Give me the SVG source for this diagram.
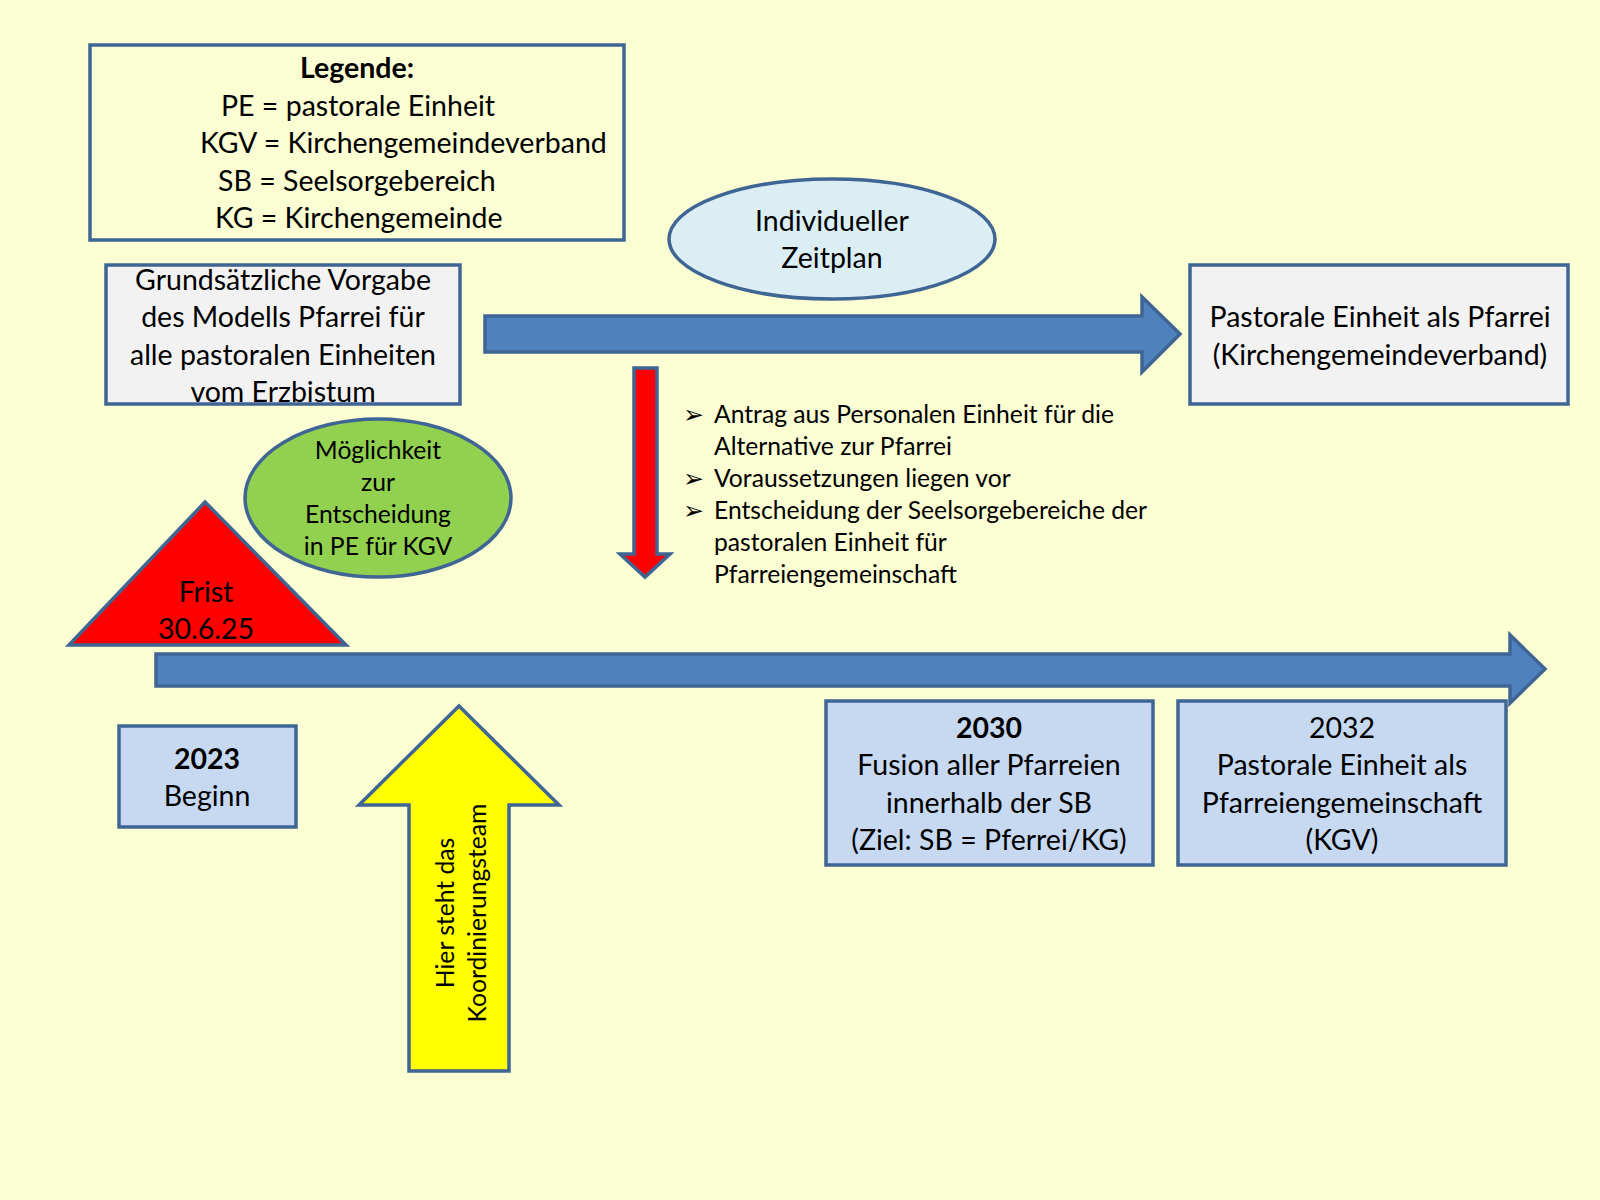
<svg xmlns="http://www.w3.org/2000/svg" width="1600" height="1200" viewBox="0 0 1600 1200">
<style>
text { font-family: Lato, "Liberation Sans", sans-serif; fill: #000; }
.l { font-size: 28.5px; }
.s { font-size: 24.7px; }
.c { text-anchor: middle; }
.b { font-weight: bold; }
.shape { stroke: #3F6594; stroke-width: 3.5; stroke-linejoin: miter; }
.blue { fill: #4F81BD; }
.grey { fill: #F2F2F2; }
.lb { fill: #C6D9F1; }
.bul { font-family: "DejaVu Sans", sans-serif; font-size: 25px; }
</style>
<rect width="1600" height="1200" fill="#FBFDD2"/>

<g id="legend">
  <rect class="shape" x="90" y="45" width="534" height="195" fill="#FBFDD2"/>
  <text class="l c b" x="357" y="78">Legende:</text>
  <text class="l" x="221" y="116">PE = pastorale Einheit</text>
  <text class="l" x="200" y="153">KGV = Kirchengemeindeverband</text>
  <text class="l" x="218" y="191">SB = Seelsorgebereich</text>
  <text class="l" x="215" y="228">KG = Kirchengemeinde</text>
</g>

<g id="vorgabe">
  <rect class="shape grey" x="106" y="265" width="354" height="139"/>
  <text class="l c" x="283" y="290">Grundsätzliche Vorgabe</text>
  <text class="l c" x="283" y="327">des Modells Pfarrei für</text>
  <text class="l c" x="283" y="365">alle pastoralen Einheiten</text>
  <text class="l c" x="283" y="402">vom Erzbistum</text>
</g>

<g id="zeitplan">
  <ellipse class="shape" cx="832" cy="239" rx="163" ry="60" fill="#DBEEF4"/>
  <text class="l c" x="832" y="231">Individueller</text>
  <text class="l c" x="832" y="268">Zeitplan</text>
</g>

<g id="pfarrei">
  <rect class="shape grey" x="1190" y="265" width="378" height="139"/>
  <text class="l c" x="1380" y="327">Pastorale Einheit als Pfarrei</text>
  <text class="l c" x="1380" y="365">(Kirchengemeindeverband)</text>
</g>

<g id="moeglichkeit">
  <ellipse class="shape" cx="378" cy="498" rx="133" ry="79" fill="#92D050"/>
  <text class="s c" x="378" y="459">Möglichkeit</text>
  <text class="s c" x="378" y="491">zur</text>
  <text class="s c" x="378" y="523">Entscheidung</text>
  <text class="s c" x="378" y="555">in PE für KGV</text>
</g>

<g id="frist">
  <polygon class="shape" points="205,502 346,645 69,645" fill="#FF0000"/>
  <text class="l c" x="206" y="602">Frist</text>
  <text class="l c" x="206" y="639">30.6.25</text>
</g>

<g id="liste">
  <text class="bul" x="683" y="423">➢</text>
  <text class="s" x="714" y="423">Antrag aus Personalen Einheit für die</text>
  <text class="s" x="714" y="455">Alternative zur Pfarrei</text>
  <text class="bul" x="683" y="487">➢</text>
  <text class="s" x="714" y="487">Voraussetzungen liegen vor</text>
  <text class="bul" x="683" y="519">➢</text>
  <text class="s" x="714" y="519">Entscheidung der Seelsorgebereiche der</text>
  <text class="s" x="714" y="551">pastoralen Einheit für</text>
  <text class="s" x="714" y="583">Pfarreiengemeinschaft</text>
</g>

<g id="beginn">
  <rect class="shape lb" x="119" y="726" width="177" height="101"/>
  <text class="l c b" x="207" y="769">2023</text>
  <text class="l c" x="207" y="806">Beginn</text>
</g>

<g id="koordinierung">
  <polygon class="shape" points="459,706 559,805 509,805 509,1071 409,1071 409,805 359,805" fill="#FFFF00"/>
  <text class="s c" transform="translate(454,913) rotate(-90)">Hier steht das</text>
  <text class="s c" transform="translate(486,913) rotate(-90)">Koordinierungsteam</text>
</g>

<g id="connectors">
  <polygon class="shape blue" points="485,316 1142,316 1142,297 1180,334 1142,372 1142,352 485,352"/>
  <polygon class="shape" points="634,368 657,368 657,554 670,554 645,577 620,554 634,554" fill="#FF0000"/>
  <polygon class="shape blue" points="156,654 1510,654 1510,635 1545,669 1510,703 1510,686 156,686"/>
</g>

<g id="y2030">
  <rect class="shape lb" x="826" y="701" width="327" height="164"/>
  <text class="l c b" x="989" y="738">2030</text>
  <text class="l c" x="989" y="775">Fusion aller Pfarreien</text>
  <text class="l c" x="989" y="813">innerhalb der SB</text>
  <text class="l c" x="989" y="850">(Ziel: SB = Pferrei/KG)</text>
</g>

<g id="y2032">
  <rect class="shape lb" x="1178" y="701" width="328" height="164"/>
  <text class="l c" x="1342" y="738">2032</text>
  <text class="l c" x="1342" y="775">Pastorale Einheit als</text>
  <text class="l c" x="1342" y="813">Pfarreiengemeinschaft</text>
  <text class="l c" x="1342" y="850">(KGV)</text>
</g>
</svg>
